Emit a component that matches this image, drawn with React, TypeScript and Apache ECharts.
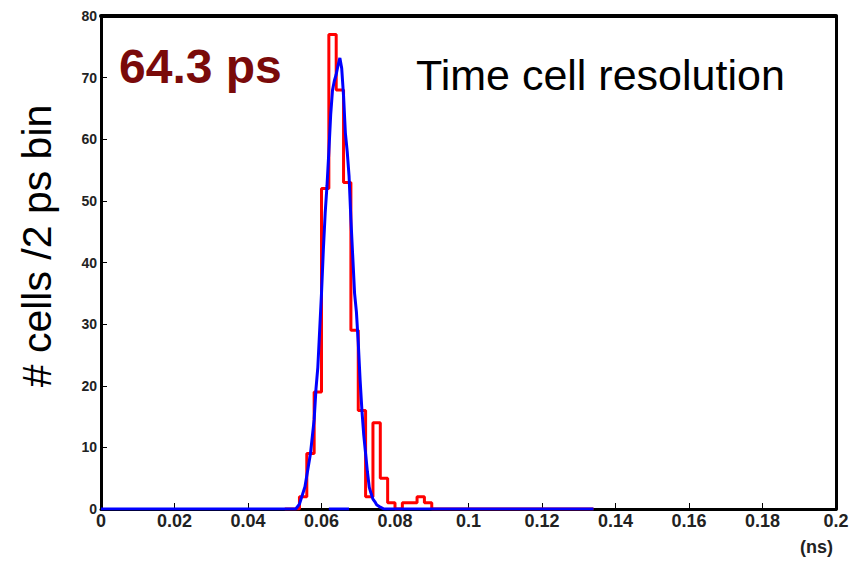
import React, { useEffect, useRef } from "react";
import * as echarts from "echarts";

// Red histogram: left bin edges (ns) and counts per 2 ps bin
const redEdges = [0.05, 0.054, 0.056, 0.058, 0.06, 0.062, 0.064, 0.066, 0.068, 0.07, 0.072, 0.074, 0.076, 0.078, 0.08, 0.082, 0.084, 0.086, 0.088, 0.09, 0.134];
const redCounts = [0, 2, 9, 19, 52, 77, 68, 53, 29, 16, 2, 14, 5, 1, 0, 1, 1, 2, 1, 0, 0];

// Blue fitted curve sample points
const blueX = [0, 0.053, 0.054, 0.0555, 0.057, 0.058, 0.0585, 0.059, 0.0595, 0.06, 0.0605, 0.061, 0.0615, 0.062, 0.0625, 0.063, 0.0635, 0.064, 0.0645, 0.065, 0.0655, 0.066, 0.0665, 0.067, 0.0675, 0.068, 0.0685, 0.069, 0.0695, 0.07, 0.0705, 0.071, 0.0715, 0.072, 0.0725, 0.073, 0.0735, 0.074, 0.0745, 0.075, 0.076, 0.077, 0.134];
const blueY = [0, 0, 0.8, 3.6, 9, 14.5, 19.5, 23, 29, 35, 42, 48, 52.5, 58, 64, 68, 69.5, 70.5, 72, 73.2, 71.5, 67, 61, 58, 54, 47, 41, 35, 32, 27, 21, 16, 12, 9, 6, 3.5, 2.5, 1.6, 1.2, 0.7, 0.3, 0, 0];

// Blue baseline segment
const blueBaseX = [0.062, 0.0675];
const blueBaseY = [0, 0];

const xTicks = ["0", "0.02", "0.04", "0.06", "0.08", "0.1", "0.12", "0.14", "0.16", "0.18", "0.2"];
const yTicks = [0, 10, 20, 30, 40, 50, 60, 70, 80];

const resolutionLabel = "64.3 ps";
const titleLabel = "Time cell resolution";
const yTitle = "# cells /2 ps bin";
const xUnit = "(ns)";

export default function App() {
  const ref = useRef<HTMLDivElement>(null);
  useEffect(() => {
    if (!ref.current) return;
    const chart = echarts.init(ref.current, null, { renderer: "svg" });
    const font = "Liberation Sans, Arial, Helvetica, sans-serif";
    const red = redEdges.map((e, i) => [e, redCounts[i]]);
    const blue = blueX.map((x, i) => [x, blueY[i]]);
    const blueBase = blueBaseX.map((x, i) => [x, blueBaseY[i]]);
    chart.setOption({
      animation: false,
      backgroundColor: "#ffffff",
      grid: { left: 101, right: 17, top: 16, bottom: 53 },
      xAxis: [
        {
          type: "value",
          min: 0,
          max: 0.2,
          interval: 0.02,
          axisLine: { show: true, onZero: false, lineStyle: { color: "#000", width: 3 } },
          axisTick: { show: true, inside: true, length: 6, lineStyle: { color: "#000", width: 1 } },
          axisLabel: {
            fontFamily: font,
            fontWeight: "bold",
            fontSize: 18,
            color: "#222",
            margin: 3,
            formatter: (v: number) => {
              const idx = Math.round(v / 0.02);
              return xTicks[idx] ?? "";
            },
          },
          splitLine: { show: false },
        },
        {
          type: "value",
          position: "top",
          min: 0,
          max: 0.2,
          axisLine: { show: true, onZero: false, lineStyle: { color: "#000", width: 4 } },
          axisTick: { show: false },
          axisLabel: { show: false },
          splitLine: { show: false },
        },
      ],
      yAxis: [
        {
          type: "value",
          min: 0,
          max: 80,
          interval: 10,
          axisLine: { show: true, onZero: false, lineStyle: { color: "#000", width: 3 } },
          axisTick: { show: true, inside: true, length: 6, lineStyle: { color: "#000", width: 1 } },
          axisLabel: {
            fontFamily: font,
            fontWeight: "bold",
            fontSize: 14,
            color: "#222",
            margin: 4,
            formatter: (v: number) => (yTicks.includes(v) ? String(v) : ""),
          },
          splitLine: { show: false },
        },
        {
          type: "value",
          position: "right",
          min: 0,
          max: 80,
          axisLine: { show: true, onZero: false, lineStyle: { color: "#000", width: 3 } },
          axisTick: { show: false },
          axisLabel: { show: false },
          splitLine: { show: false },
        },
      ],
      graphic: [
        {
          type: "text",
          x: 37,
          y: 246,
          rotation: Math.PI / 2,
          style: {
            text: yTitle,
            font: `41px ${font}`,
            fill: "#000",
            textAlign: "center",
            textVerticalAlign: "middle",
          },
        },
        {
          type: "text",
          left: 119,
          top: 42,
          style: { text: resolutionLabel, font: `bold 48px ${font}`, fill: "#7a0a0a" },
        },
        {
          type: "text",
          left: 416,
          top: 53,
          style: { text: titleLabel, font: `43px ${font}`, fill: "#000" },
        },
        {
          type: "text",
          left: 800,
          top: 538,
          style: { text: xUnit, font: `bold 18px ${font}`, fill: "#222" },
        },
      ],
      series: [
        {
          type: "line",
          data: red,
          step: "end",
          showSymbol: false,
          lineStyle: { color: "#ff0000", width: 3 },
          z: 2,
        },
        {
          type: "line",
          data: blue,
          showSymbol: false,
          lineStyle: { color: "#0000ff", width: 3 },
          z: 3,
        },
        {
          type: "line",
          data: blueBase,
          showSymbol: false,
          lineStyle: { color: "#0000ff", width: 3 },
          z: 3,
        },
      ],
    });
    return () => chart.dispose();
  }, []);
  return <div ref={ref} style={{ position: "fixed", left: 0, top: 0, width: 853, height: 562 }} />;
}
